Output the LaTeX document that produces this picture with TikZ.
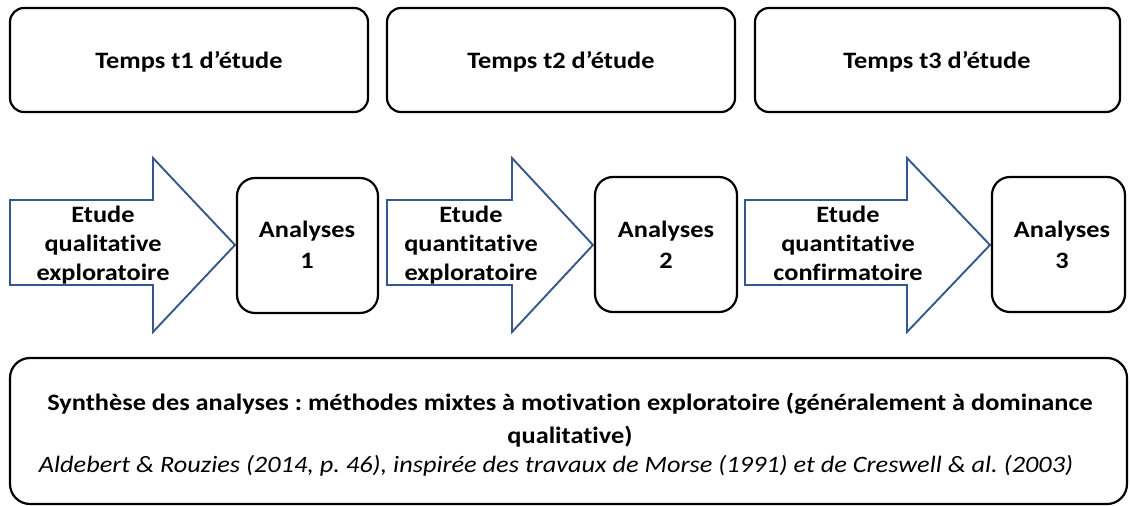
\documentclass[tikz,border=0pt]{standalone}
\usepackage{fontspec}
\setmainfont{Carlito}[FakeStretch=1.12,Ligatures={NoCommon,TeX}]
\frenchspacing
\begin{document}
\begin{tikzpicture}[x=1pt,y=-1pt,
  box/.style={draw=black,line width=2.2pt,rounded corners=14pt},
  abox/.style={draw=black,line width=2.2pt,rounded corners=18pt},
  arr/.style={draw=arrblue,line width=1.9pt,line join=miter},
  lab/.style={font=\bfseries\fontsize{23.5}{29}\selectfont,align=center,inner sep=0pt,anchor=base},
  alab/.style={lab,font=\bfseries\fontsize{23.5}{31}\selectfont},
]
\definecolor{arrblue}{RGB}{52,88,140}
\useasboundingbox (0,0) rectangle (1130,506);
% top boxes
\draw[box] (10,8) rectangle (368,112);
\draw[box] (387,8) rectangle (735,112);
\draw[box] (755,8) rectangle (1120,112);
\node[lab] (t1) at (189,68) {Temps t1 d’étude};
\node[lab] (t2) at (561,68) {Temps t2 d’étude};
\node[lab] (t3) at (937,68) {Temps t3 d’étude};
% arrows
\draw[arr] (10,200) -- (153,200) -- (153,158) -- (235,245) -- (153,332) -- (153,285) -- (10,285) -- cycle;
\draw[arr] (387,200) -- (512,200) -- (512,158) -- (593,245) -- (512,332) -- (512,285) -- (387,285) -- cycle;
\draw[arr] (745,200) -- (907,200) -- (907,158) -- (990,245) -- (907,332) -- (907,285) -- (745,285) -- cycle;
\node[lab] (e1) at (103,280) {Etude\\qualitative\\exploratoire};
\node[lab] (e2) at (471,280) {Etude\\quantitative\\exploratoire};
\node[lab] (e3) at (848,280) {Etude\\quantitative\\confirmatoire};
% analyses boxes
\draw[abox] (237,178) rectangle (378,313);
\draw[abox] (595,177) rectangle (737,312);
\draw[abox] (992,177) rectangle (1125,312);
\node[alab] (a1) at (307,268) {Analyses\\1};
\node[alab] (a2) at (666,268) {Analyses\\2};
\node[alab] (a3) at (1062,268) {Analyses\\3};
% bottom box
\draw[box,rounded corners=20pt] (10,358) rectangle (1127,504);
\node[lab] (s1) at (570,410) {Synthèse des analyses : méthodes mixtes à motivation exploratoire (généralement à dominance};
\node[lab] (s2) at (570,443) {qualitative)};
\node[lab,font=\itshape\fontsize{23.5}{29}\selectfont] (s3) at (556,472) {Aldebert \& Rouzies (2014, p. 46), inspirée des travaux de Morse (1991) et de Creswell \& al. (2003)};
\end{tikzpicture}
\end{document}
